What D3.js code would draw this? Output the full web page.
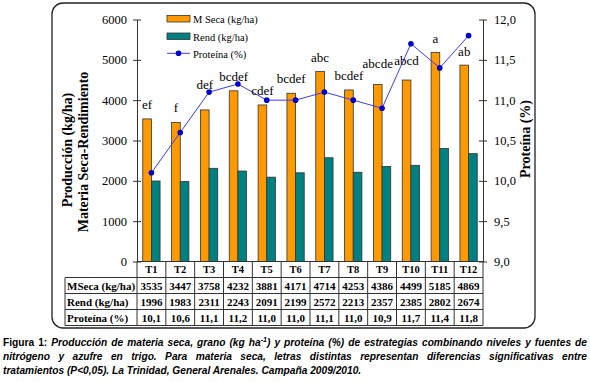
<!DOCTYPE html>
<html><head><meta charset="utf-8">
<script src="https://cdn.jsdelivr.net/npm/d3@7"></script>
<style>
html,body{margin:0;padding:0;background:#fff;}
svg{display:block;}
</style></head>
<body>
<script>
// ---- data ----
const categories = ['T1','T2','T3','T4','T5','T6','T7','T8','T9','T10','T11','T12'];
const mseca = [3535,3447,3758,4232,3881,4171,4714,4253,4386,4499,5185,4869];
const rend = [1996,1983,2311,2243,2091,2199,2572,2213,2357,2385,2802,2674];
const proteina = [10.1,10.6,11.1,11.2,11.0,11.0,11.1,11.0,10.9,11.7,11.4,11.8];
const letters = ['ef','f','def','bcdef','cdef','bcdef','abc','bcdef','abcde','abcd','a','ab'];
const leftTicks = [0,1000,2000,3000,4000,5000,6000];
const rightTicks = [9.0,9.5,10.0,10.5,11.0,11.5,12.0];
const seriesNames = ['M Seca (kg/ha)','Rend (kg/ha)','Proteína (%)'];
const rowLabels = ['MSeca (kg/ha)','Rend (kg/ha)','Proteína (%)'];

// ---- layout (not data) ----
const letterLift = [10,10,21,10,9.5,10,9,9.5,17,15.5,9,9.6];
const W = 590, H = 382;
const x0 = 137, x1r = 483, yTop = 19.5, yBot = 261.5;
const colors = {ms:'#FF9900', rd:'#008080', line:'#3a3aff', dot:'#0000cc'};
const serif = '"Liberation Serif","Times New Roman",serif';
const sans = '"Liberation Sans",Arial,sans-serif';

const svg = d3.select('body').append('svg').attr('width',W).attr('height',H);
svg.append('rect').attr('width',W).attr('height',H).attr('fill','#fff');
svg.append('rect').attr('x',52).attr('y',3).attr('width',483).attr('height',325)
  .attr('rx',11).attr('fill','#fff').attr('stroke','#222').attr('stroke-width',1.3);

const x = d3.scaleBand().domain(categories).range([x0,x1r]).paddingInner(0).paddingOuter(0);
const xs = d3.scaleBand().domain(['ms','rd']).range([x.bandwidth()*0.2, x.bandwidth()*0.8]);
const y = d3.scaleLinear().domain([0,6000]).range([yBot,yTop]);
const y2 = d3.scaleLinear().domain([9,12]).range([yBot,yTop]);

// bars
const g = svg.append('g');
categories.forEach((c,i)=>{
  g.append('rect').attr('x',x(c)+xs('ms')).attr('y',y(mseca[i])).attr('width',xs.bandwidth())
    .attr('height',y(0)-y(mseca[i])).attr('fill',colors.ms).attr('stroke','#333').attr('stroke-width',0.8);
  g.append('rect').attr('x',x(c)+xs('rd')).attr('y',y(rend[i])).attr('width',xs.bandwidth())
    .attr('height',y(0)-y(rend[i])).attr('fill',colors.rd).attr('stroke','#333').attr('stroke-width',0.8);
});

// axes
const axL = svg.append('g').attr('transform',`translate(${x0},0)`)
  .call(d3.axisLeft(y).tickValues(leftTicks).tickFormat(d3.format('d')).tickSize(4).tickSizeOuter(0).tickPadding(6));
axL.selectAll('.tick line').attr('x1',4);
const axR = svg.append('g').attr('transform',`translate(${x1r},0)`)
  .call(d3.axisRight(y2).tickValues(rightTicks).tickFormat(d=>d.toFixed(1).replace('.',',')).tickSize(4).tickSizeOuter(0).tickPadding(7));
axR.selectAll('.tick line').attr('x1',-4);
[axL,axR].forEach(a=>{
  a.attr('font-family',serif).attr('font-size',12);
  a.select('.domain').attr('stroke','#333');
  a.selectAll('.tick line').attr('stroke','#333');
  a.selectAll('text').attr('font-family',serif).attr('font-size',12.5).attr('fill','#000');
});

// protein line
const line = d3.line().x((d,i)=>x(categories[i])+x.bandwidth()/2).y(d=>y2(d));
svg.append('path').datum(proteina).attr('d',line).attr('fill','none').attr('stroke',colors.line).attr('stroke-width',1);
svg.selectAll('circle.p').data(proteina).enter().append('circle')
  .attr('cx',(d,i)=>x(categories[i])+x.bandwidth()/2).attr('cy',d=>y2(d)).attr('r',2.8).attr('fill',colors.dot);

// letters
svg.selectAll('text.lt').data(letters).enter().append('text')
  .attr('x',(d,i)=>x(categories[i])+xs('ms')+xs.bandwidth()/2)
  .attr('y',(d,i)=>y(mseca[i])-letterLift[i])
  .attr('text-anchor','middle').attr('font-family',serif).attr('font-size',13).text(d=>d);

// axis titles
svg.append('text').attr('transform','translate(72,150) rotate(-90)').attr('font-family',serif)
  .attr('font-size',14).attr('font-weight','bold').attr('text-anchor','middle').text('Producción (kg/ha)');
svg.append('text').attr('transform','translate(88,152) rotate(-90)').attr('font-family',serif)
  .attr('font-size',14).attr('font-weight','bold').attr('text-anchor','middle').text('Materia Seca-Rendimiento');
svg.append('text').attr('transform','translate(530,139) rotate(-90)').attr('font-family',serif)
  .attr('font-size',14).attr('font-weight','bold').attr('text-anchor','middle').text('Proteína (%)');

// legend
const lg = svg.append('g').attr('font-family',serif).attr('font-size',10.5);
lg.append('rect').attr('x',167).attr('y',15.5).attr('width',23).attr('height',6.5).attr('fill',colors.ms).attr('stroke','#333').attr('stroke-width',0.8);
lg.append('text').attr('x',193).attr('y',22.5).text(seriesNames[0]);
lg.append('rect').attr('x',167).attr('y',33).attr('width',23).attr('height',6.5).attr('fill',colors.rd).attr('stroke','#333').attr('stroke-width',0.8);
lg.append('text').attr('x',193).attr('y',41).text(seriesNames[1]);
lg.append('line').attr('x1',167).attr('x2',190).attr('y1',53.3).attr('y2',53.3).attr('stroke',colors.line).attr('stroke-width',1);
lg.append('circle').attr('cx',178.5).attr('cy',53.3).attr('r',2.8).attr('fill',colors.dot);
lg.append('text').attr('x',193).attr('y',58.3).text(seriesNames[2]);

// table
const tb = svg.append('g');
const hdrTop = yBot, tTop = 277.5, rowH = 16;
const tBot = tTop + 3*rowH;
const stroke = '#333';
tb.append('line').attr('x1',x0).attr('x2',x1r).attr('y1',hdrTop).attr('y2',hdrTop).attr('stroke',stroke);
[0,1,2,3].forEach(r=>{
  tb.append('line').attr('x1',65).attr('x2',x1r).attr('y1',tTop+r*rowH).attr('y2',tTop+r*rowH).attr('stroke',stroke);
});
tb.append('line').attr('x1',65).attr('x2',65).attr('y1',tTop).attr('y2',tBot).attr('stroke',stroke);
categories.forEach(c=>{
  tb.append('line').attr('x1',x(c)).attr('x2',x(c)).attr('y1',hdrTop).attr('y2',tBot).attr('stroke',stroke);
});
tb.append('line').attr('x1',x1r).attr('x2',x1r).attr('y1',hdrTop).attr('y2',tBot).attr('stroke',stroke);
categories.forEach((c,i)=>{
  const cx = x(c)+x.bandwidth()/2;
  tb.append('text').attr('x',cx).attr('y',hdrTop+11).attr('text-anchor','middle').attr('font-family',serif)
    .attr('font-size',10.5).attr('font-weight','bold').text(c);
  const vals = [mseca[i], rend[i], proteina[i].toFixed(1).replace('.',',')];
  vals.forEach((v,r)=>{
    tb.append('text').attr('x',cx).attr('y',tTop+r*rowH+12.5).attr('text-anchor','middle')
      .attr('font-family',serif).attr('font-size',11).attr('font-weight','bold').text(v);
  });
});
rowLabels.forEach((l,r)=>{
  tb.append('text').attr('x',67).attr('y',tTop+r*rowH+12.5).attr('font-family',serif)
    .attr('font-size',11).attr('font-weight','bold').text(l);
});

// caption
const capFS = 10.2;
function capLine(yb, parts, justify){
  const t = svg.append('text').attr('x',3).attr('y',yb).attr('font-family',sans).attr('font-size',capFS)
    .attr('font-weight','bold').attr('fill','#000');
  parts.forEach(p=>{
    const s = t.append('tspan').text(p.t);
    if(p.it) s.attr('font-style','italic');
    if(p.sup) s.attr('font-size',capFS*0.7).attr('dy',-4);
    if(p.down) s.attr('dy',4);
  });
  if(justify){
    const w = t.node().getComputedTextLength();
    const txt = parts.map(p=>p.t).join('');
    const n = (txt.match(/ /g)||[]).length;
    t.attr('word-spacing',((584 - w)/n)+'px');
  }
}
capLine(345.5,[{t:'Figura 1: '},{t:'Producción de materia seca, grano (kg ha',it:1},{t:'-1',it:1,sup:1},{t:') y proteína (%) de estrategias combinando niveles y fuentes de',it:1,down:1}],true);
capLine(360,[{t:'nitrógeno y azufre en trigo. Para materia seca, letras distintas representan diferencias significativas entre',it:1}],true);
capLine(374.3,[{t:'tratamientos (P<0,05). La Trinidad, General Arenales. Campaña 2009/2010.',it:1}],false);
</script>
</body></html>
